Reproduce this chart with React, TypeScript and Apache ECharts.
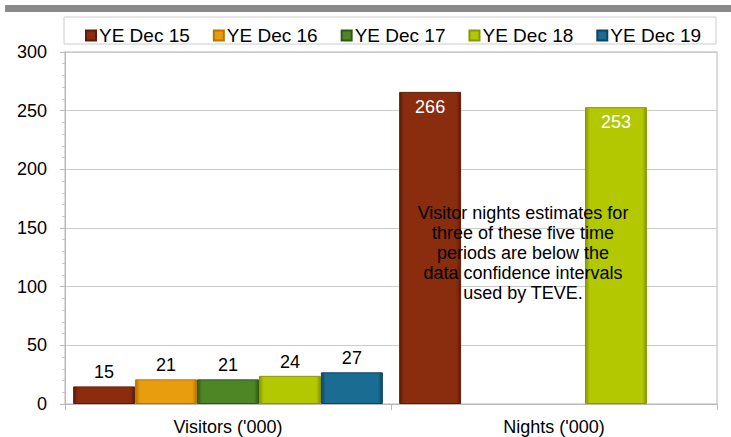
import React, { useEffect, useRef } from "react";
import * as echarts from "echarts";

const categories = ["Visitors ('000)", "Nights ('000)"];
const seriesNames = ["YE Dec 15", "YE Dec 16", "YE Dec 17", "YE Dec 18", "YE Dec 19"];
const visitors = [15, 21, 21, 24, 27];
const nights: (number | null)[] = [266, null, null, 253, null];
const mainColors = ["#8a2c0e", "#e89d0e", "#4e8626", "#b3c800", "#1b6c92"];
const edgeColors = ["#5e1c06", "#b87600", "#2f5a14", "#889800", "#0c4563"];
const yTicks = [0, 50, 100, 150, 200, 250, 300];
const noteLines = [
  "Visitor nights estimates for",
  "three of these five time",
  "periods are below the",
  "data confidence intervals",
  "used by TEVE.",
];

const FONT = "'Liberation Sans', Arial, sans-serif";

export default function App() {
  const ref = useRef<HTMLDivElement>(null);
  useEffect(() => {
    if (!ref.current) return;
    const chart = echarts.init(ref.current, undefined, { renderer: "svg" });
    const series = seriesNames.map((name, i) => ({
      name,
      type: "bar",
      barGap: "0%",
      barCategoryGap: "5%",
      itemStyle: {
        color: new echarts.graphic.LinearGradient(0, 0, 1, 0, [
          { offset: 0, color: edgeColors[i] },
          { offset: 0.07, color: mainColors[i] },
          { offset: 0.93, color: mainColors[i] },
          { offset: 1, color: edgeColors[i] },
        ]),
        borderColor: edgeColors[i],
        borderWidth: 1,
      },
      label: { show: true, fontFamily: FONT, fontSize: 18 },
      data: [
        { value: visitors[i], label: { position: "top", color: "#000", distance: 5 } },
        nights[i] == null
          ? { value: null }
          : { value: nights[i], label: { position: "insideTop", color: "#fff", distance: 6 } },
      ],
    }));
    chart.setOption({
      animation: false,
      textStyle: { fontFamily: FONT },
      grid: {
        left: 65,
        right: 14,
        top: 52,
        bottom: 33,
        show: true,
        borderColor: "#d0d0d0",
        borderWidth: 1.5,
      },
      legend: {
        data: seriesNames,
        left: 80,
        top: 21,
        icon: "rect",
        itemWidth: 10,
        itemHeight: 10,
        itemGap: 23,
        textStyle: { fontFamily: FONT, fontSize: 19, color: "#000", padding: [0, 0, 0, -2] },
      },
      xAxis: {
        type: "category",
        data: categories,
        axisLine: { lineStyle: { color: "#b8b8b8" } },
        axisTick: { show: true, length: 6, lineStyle: { color: "#b8b8b8" } },
        axisLabel: { fontFamily: FONT, fontSize: 18, color: "#000", margin: 14 },
      },
      yAxis: {
        type: "value",
        min: yTicks[0],
        max: yTicks[yTicks.length - 1],
        interval: 50,
        axisLine: { show: true, lineStyle: { color: "#b8b8b8" } },
        axisTick: { show: true, length: 5, lineStyle: { color: "#b8b8b8" } },
        minorTick: { show: true, splitNumber: 5, length: 3, lineStyle: { color: "#c8c8c8" } },
        splitLine: { lineStyle: { color: "#cccccc" } },
        axisLabel: { fontFamily: FONT, fontSize: 18, color: "#000", margin: 18 },
      },
      graphic: [
        {
          type: "rect",
          shape: { x: 5, y: 5, width: 726, height: 7 },
          style: { fill: "#8a8a8a" },
          silent: true,
        },
        {
          type: "rect",
          shape: { x: 64, y: 17, width: 652, height: 27 },
          style: { fill: "none", stroke: "#cccccc", lineWidth: 1 },
          silent: true,
        },
        {
          type: "text",
          x: 523,
          y: 203,
          z: 100,
          style: {
            text: noteLines.join("\n"),
            fontFamily: FONT,
            fontSize: 18,
            lineHeight: 20,
            fill: "#000",
            align: "center",
            verticalAlign: "top",
          },
        },
      ],
      series,
    });
    return () => chart.dispose();
  }, []);
  return <div ref={ref} style={{ width: 731, height: 437, position: "absolute", left: 0, top: 0 }} />;
}
